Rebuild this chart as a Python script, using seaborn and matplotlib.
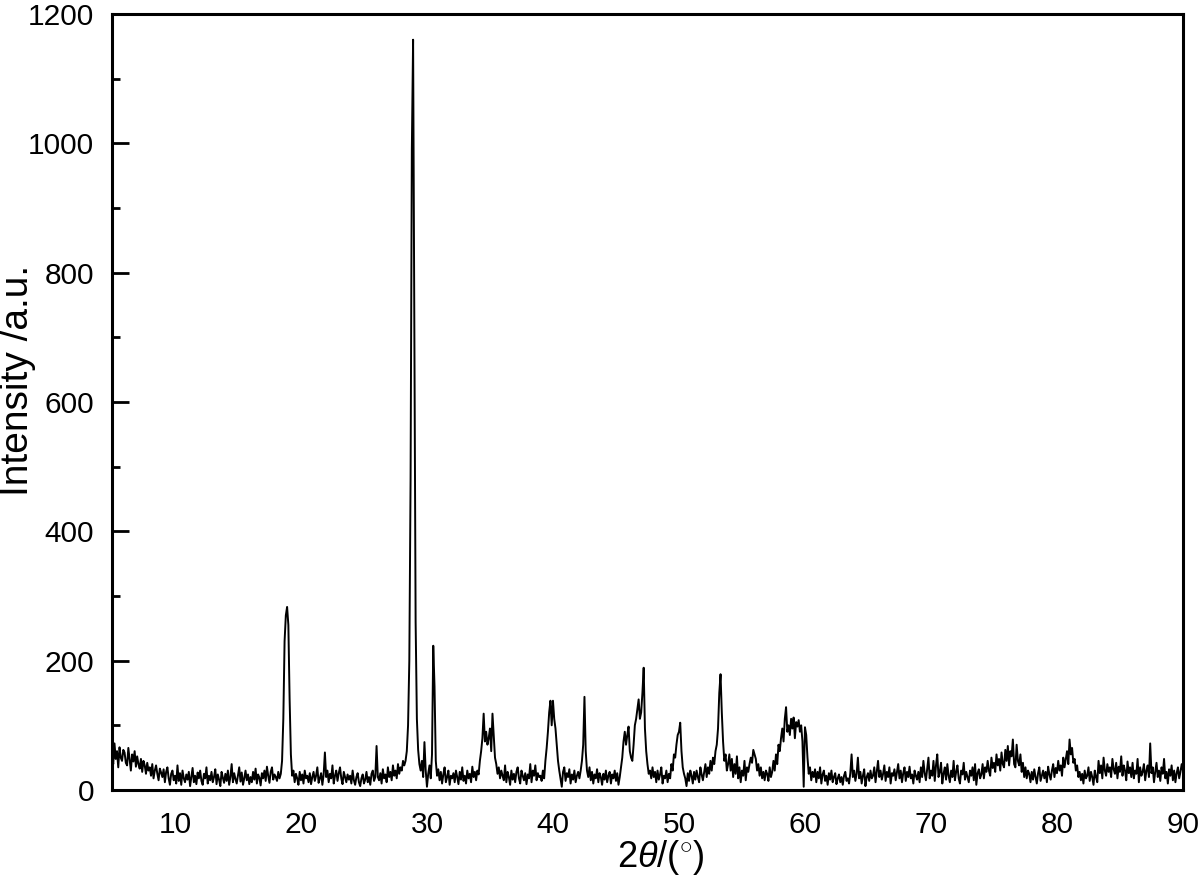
import numpy as np
import pandas as pd
import matplotlib
matplotlib.use("Agg")
import matplotlib.pyplot as plt
import seaborn as sns
from matplotlib.ticker import MultipleLocator

# XRD intensities, 0.1 deg steps, split by range
i_05_10 = [55, 40, 72, 48, 60, 35, 66, 50, 45, 62,
           58, 42, 38, 65, 47, 30, 55, 44, 60, 36,
           52, 40, 33, 48, 28, 45, 38, 25, 42, 30,
           35, 22, 40, 18, 30, 38, 25, 15, 33, 27,
           20, 32, 12, 28, 35, 18, 8, 25, 30, 15]
i_10_20 = [22, 10, 38, 14, 26, 8, 30, 18, 12, 24,
           16, 28, 6, 20, 34, 12, 22, 9, 27, 18,
           30, 14, 8, 25, 18, 35, 10, 22, 15, 28,
           12, 20, 32, 9, 24, 16, 6, 28, 19, 11,
           25, 14, 30, 8, 20, 40, 12, 26, 17, 10,
           22, 35, 13, 27, 8, 18, 30, 15, 24, 9,
           20, 12, 28, 16, 33, 10, 24, 19, 7, 26,
           18, 30, 14, 36, 22, 11, 28, 35, 16, 24,
           20, 14, 28, 18, 25, 45, 110, 230, 270, 283,
           255, 140, 55, 22, 30, 12, 25, 18, 8, 28]
i_20_30 = [15, 24, 10, 30, 18, 22, 12, 26, 9, 20,
           28, 14, 22, 35, 11, 18, 26, 8, 24, 58,
           20, 30, 12, 25, 18, 38, 10, 22, 30, 14,
           26, 35, 18, 9, 28, 20, 12, 24, 16, 22,
           10, 30, 15, 8, 20, 26, 12, 6, 18, 24,
           10, 16, 28, 12, 20, 8, 25, 30, 14, 20,
           68, 20, 15, 26, 10, 32, 18, 24, 12, 35,
           20, 28, 15, 38, 22, 30, 18, 40, 25, 35,
           30, 45, 38, 45, 60, 100, 200, 480, 990, 1160,
           720, 260, 110, 62, 40, 30, 45, 20, 74, 30]
i_30_40 = [5, 25, 38, 18, 55, 223, 160, 45, 22, 32,
           15, 28, 10, 24, 35, 12, 20, 30, 8, 22,
           18, 26, 12, 30, 20, 9, 28, 16, 35, 14,
           22, 10, 30, 18, 25, 12, 36, 20, 28, 15,
           30, 24, 45, 60, 80, 118, 75, 90, 70, 80,
           95, 60, 118, 85, 50, 40, 25, 35, 18, 30,
           22, 15, 38, 12, 28, 20, 8, 30, 16, 25,
           12, 28, 35, 18, 10, 30, 22, 15, 26, 9,
           24, 18, 40, 12, 30, 22, 38, 15, 26, 20,
           22, 14, 30, 18, 45, 65, 90, 120, 138, 100]
i_40_50 = [138, 110, 95, 70, 45, 30, 18, 5, 28, 35,
           14, 26, 20, 32, 10, 24, 16, 30, 12, 22,
           28, 18, 30, 45, 70, 144, 60, 30, 20, 35,
           15, 28, 10, 24, 18, 32, 12, 26, 20, 8,
           25, 16, 30, 12, 22, 28, 10, 24, 18, 30,
           14, 26, 8, 20, 35, 50, 75, 90, 70, 85,
           98, 60, 50, 45, 70, 100, 110, 125, 140, 110,
           120, 150, 189, 95, 60, 40, 25, 30, 18, 35,
           20, 28, 12, 30, 16, 24, 35, 10, 22, 18,
           30, 12, 25, 18, 40, 30, 55, 50, 70, 85]
i_50_60 = [90, 104, 60, 35, 25, 18, 6, 26, 14, 30,
           22, 10, 28, 16, 30, 20, 12, 35, 24, 15,
           28, 40, 20, 35, 25, 45, 30, 50, 40, 60,
           70, 95, 150, 179, 120, 75, 45, 55, 30, 40,
           55, 30, 48, 20, 40, 25, 52, 18, 35, 12,
           30, 22, 45, 15, 35, 28, 40, 50, 42, 62,
           55, 48, 30, 40, 22, 35, 18, 28, 15, 30,
           25, 14, 35, 20, 28, 45, 30, 55, 40, 70,
           60, 80, 95, 75, 110, 128, 90, 100, 85, 110,
           95, 112, 80, 105, 98, 108, 90, 100, 75, 5]
i_60_70 = [97, 85, 50, 25, 35, 15, 28, 20, 32, 12,
           28, 18, 35, 10, 24, 30, 14, 22, 8, 26,
           16, 30, 12, 20, 26, 9, 18, 24, 12, 20,
           8, 22, 28, 14, 18, 10, 26, 55, 20, 30,
           14, 25, 50, 18, 28, 10, 22, 32, 6, 20,
           26, 14, 30, 18, 22, 35, 12, 28, 45, 20,
           30, 16, 25, 38, 14, 28, 20, 35, 10, 26,
           22, 32, 15, 28, 40, 18, 30, 12, 26, 35,
           14, 28, 20, 36, 18, 24, 10, 30, 22, 16,
           28, 12, 35, 20, 45, 26, 15, 32, 50, 18]
i_70_80 = [30, 22, 45, 14, 38, 55, 20, 28, 42, 10,
           25, 35, 16, 40, 22, 12, 30, 20, 45, 15,
           28, 38, 18, 10, 30, 24, 42, 16, 28, 20,
           12, 30, 22, 35, 15, 40, 8, 26, 32, 18,
           24, 40, 18, 35, 28, 45, 30, 22, 50, 34,
           42, 28, 55, 38, 48, 30, 58, 40, 35, 62,
           45, 68, 38, 60, 52, 78, 40, 35, 70, 45,
           38, 55, 28, 42, 20, 35, 18, 30, 25, 12,
           28, 16, 32, 20, 10, 26, 35, 14, 22, 30,
           18, 28, 12, 36, 24, 16, 30, 40, 20, 34]
i_80_90 = [26, 45, 30, 38, 22, 50, 35, 48, 60, 40,
           78, 55, 65, 42, 48, 30, 38, 20, 28, 15,
           25, 10, 30, 18, 22, 35, 14, 28, 20, 8,
           30, 20, 12, 45, 26, 38, 18, 50, 30, 22,
           40, 28, 35, 20, 48, 32, 25, 42, 18, 36,
           28, 52, 22, 38, 30, 15, 44, 26, 35, 20,
           42, 18, 30, 25, 48, 12, 35, 22, 28, 40,
           15, 30, 38, 20, 72, 26, 35, 12, 28, 42,
           20, 30, 14, 35, 25, 48, 18, 28, 10, 32,
           22, 38, 15, 30, 12, 26, 35, 18, 28, 40,
           30]

intensity = (i_05_10 + i_10_20 + i_20_30 + i_30_40 + i_40_50
             + i_50_60 + i_60_70 + i_70_80 + i_80_90)
two_theta = np.linspace(5, 90, len(intensity))
df = pd.DataFrame({"two_theta": two_theta, "intensity": intensity})

sns.set_theme(style="ticks")
plt.rcParams["font.family"] = ["Liberation Sans", "DejaVu Sans"]
plt.rcParams["mathtext.fontset"] = "custom"
plt.rcParams["mathtext.rm"] = "Liberation Sans"
plt.rcParams["mathtext.it"] = "Liberation Sans:italic"
for k in ["text.color", "axes.labelcolor", "xtick.color", "ytick.color",
          "xtick.labelcolor", "ytick.labelcolor"]:
    plt.rcParams[k] = "black"

fig = plt.figure(figsize=(12, 8.76), dpi=100)
ax = fig.add_axes([0.0933, 0.0982, 0.8925, 0.886])

sns.lineplot(data=df, x="two_theta", y="intensity", ax=ax, color="black",
             linewidth=1.4, estimator=None, sort=False)

ax.set_xlim(5, 90)
ax.set_ylim(0, 1200)
ax.set_xticks([10, 20, 30, 40, 50, 60, 70, 80, 90])
ax.yaxis.set_major_locator(MultipleLocator(200))
ax.yaxis.set_minor_locator(MultipleLocator(100))

ax.tick_params(axis="y", which="major", direction="in", length=12, width=2,
               labelsize=21.5, pad=13)
ax.tick_params(axis="y", which="minor", direction="in", length=6, width=2)
ax.tick_params(axis="x", which="both", length=0, labelsize=21.5, pad=15)

for s in ax.spines.values():
    s.set_linewidth(2.2)
    s.set_color("black")

ax.set_xlabel(r"2$\mathit{\theta}$/($^{\circ}$)", fontsize=26)
ax.set_ylabel("Intensity /a.u.", fontsize=28)
ax.yaxis.set_label_coords(-0.071, 0.528)
ax.xaxis.set_label_coords(0.512, -0.062)

fig.savefig("out.png", dpi=100, facecolor="white")
